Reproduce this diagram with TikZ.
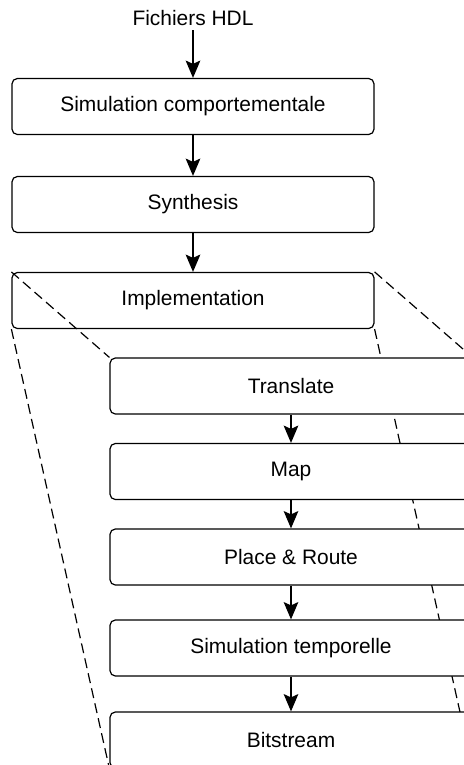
\documentclass[tikz,border=0pt]{standalone}
\usepackage{fontspec}
\setmainfont{Liberation Sans}
\usetikzlibrary{positioning,arrows.meta,backgrounds}

\begin{document}
\begin{tikzpicture}[
    x=0.75pt, y=-0.75pt,
    label/.style={font=\fontsize{15.7}{19}\selectfont},
    stage/.style={label, draw, rounded corners=4pt, line width=0.9pt, minimum width=271.5pt, minimum height=42pt},
    substage/.style={stage, fill=white},
    flow/.style={-{Stealth[length=13pt, width=11pt, inset=2.5pt]}, line width=1pt},
    zoomline/.style={dash pattern=on 7.5pt off 4pt, line width=0.9pt}
]
\useasboundingbox (0,0) rectangle (464,765);

% Input files
\node[label] (hdl) at (193,18) {Fichiers HDL};

% Main flow
\node[stage] (behav) at (193,106.5) {Simulation comportementale};
\node[stage] (synth) at (193,204.5) {Synthesis};
\node[stage] (impl) at (193,300.5) {Implementation};

% Implementation steps
\node[substage] (translate) at (291,386) {Translate};
\node[substage] (map) at (291,471.5) {Map};
\node[substage] (par) at (291,557) {Place \& Route};
\node[substage] (timing) at (291,648) {Simulation temporelle};
\node[substage] (bitstream) at (291,740) {Bitstream};

% Vertical arrows
\draw[flow] (hdl.south) -- (behav.north);
\draw[flow] (behav.south) -- (synth.north);
\draw[flow] (synth.south) -- (impl.north);
\draw[flow] (translate.south) -- (map.north);
\draw[flow] (map.south) -- (par.north);
\draw[flow] (par.south) -- (timing.north);
\draw[flow] (timing.south) -- (bitstream.north);

% Zoom lines
\begin{scope}[on background layer]
\draw[zoomline] (impl.north west) -- (translate.north west);
\draw[zoomline] (impl.north east) -- (translate.north east);
\draw[zoomline] (impl.south west) -- (bitstream.south west);
\draw[zoomline] (impl.south east) -- (bitstream.south east);
\end{scope}

\end{tikzpicture}
\end{document}
